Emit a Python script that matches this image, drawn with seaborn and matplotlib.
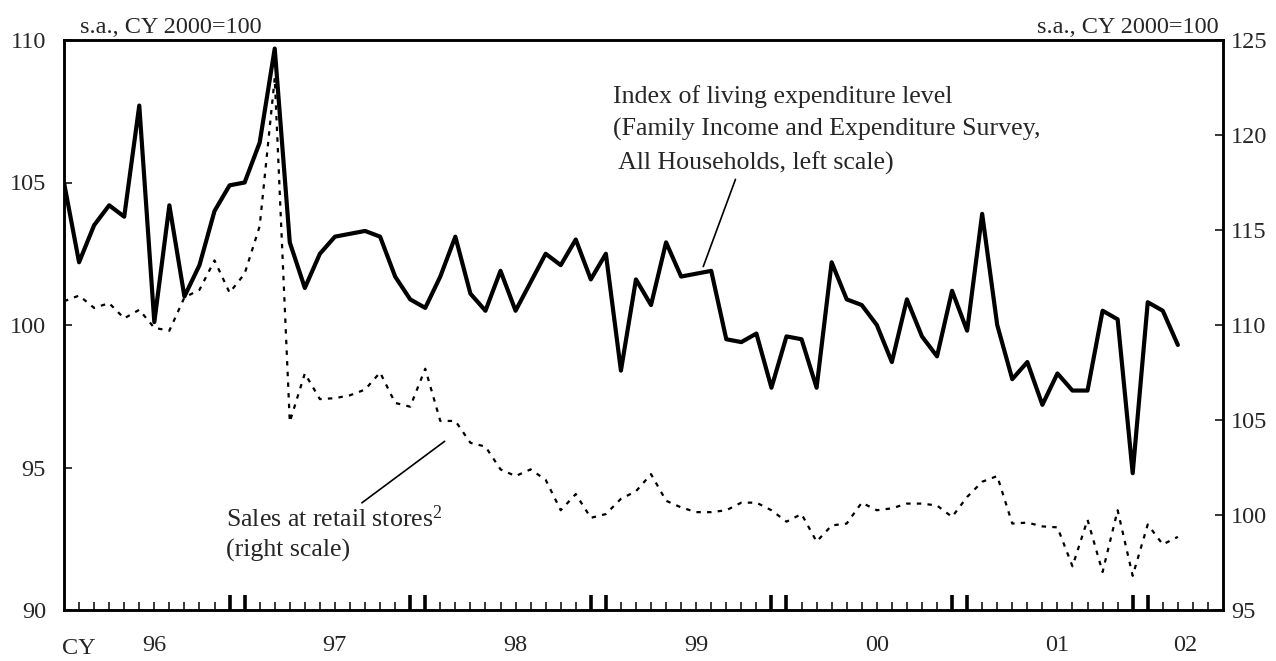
import numpy as np
import pandas as pd
import matplotlib
matplotlib.use("Agg")
import matplotlib.pyplot as plt
import seaborn as sns

# monthly data, Jan 1996 - Mar 2002
expenditure = [105.0, 102.2, 103.5, 104.2, 103.8, 107.7, 100.1, 104.2, 101.0, 102.1,
               104.0, 104.9, 105.0, 106.4, 109.7, 102.9, 101.3, 102.5, 103.1, 103.2,
               103.3, 103.1, 101.7, 100.9, 100.6, 101.7, 103.1, 101.1, 100.5, 101.9,
               100.5, 101.5, 102.5, 102.1, 103.0, 101.6, 102.5, 98.4, 101.6, 100.7,
               102.9, 101.7, 101.8, 101.9, 99.5, 99.4, 99.7, 97.8, 99.6, 99.5,
               97.8, 102.2, 100.9, 100.7, 100.0, 98.7, 100.9, 99.6, 98.9, 101.2,
               99.8, 103.9, 100.0, 98.1, 98.7, 97.2, 98.3, 97.7, 97.7, 100.5,
               100.2, 94.8, 100.8, 100.5, 99.3]
retail = [111.25, 111.55, 110.9, 111.15, 110.35, 110.8, 109.85, 109.7, 111.45, 111.85,
          113.4, 111.7, 112.7, 115.2, 123.0, 104.9, 107.45, 106.1, 106.15, 106.3,
          106.6, 107.5, 105.9, 105.7, 107.7, 104.95, 104.95, 103.8, 103.6, 102.4,
          102.05, 102.4, 101.85, 100.25, 101.1, 99.85, 100.05, 100.85, 101.25, 102.15,
          100.75, 100.4, 100.15, 100.15, 100.25, 100.65, 100.65, 100.25, 99.65, 100.05,
          98.6, 99.45, 99.55, 100.65, 100.25, 100.35, 100.6, 100.6, 100.5, 99.9,
          100.95, 101.75, 102.05, 99.55, 99.6, 99.4, 99.35, 97.3, 99.75, 97.0,
          100.25, 96.8, 99.5, 98.45, 98.85]
years = ["96", "97", "98", "99", "00", "01", "02"]
left_ticks = [90, 95, 100, 105, 110]
right_ticks = [95, 100, 105, 110, 115, 120, 125]

sns.set_style("white")
plt.rcParams["font.family"] = ["Liberation Serif", "DejaVu Serif"]
plt.rcParams["mathtext.default"] = "regular"
FS = 17.5   # axis text
FA = 18.6   # annotation text

df = pd.DataFrame({"month": np.arange(len(expenditure)),
                   "expenditure": expenditure, "retail": retail})
xmax = 77

fig = plt.figure(figsize=(12.76, 6.61), dpi=100)
ax = fig.add_axes([64 / 1276, 51 / 661, (1223 - 64) / 1276, 570 / 661])
ax2 = ax.twinx()

sns.lineplot(data=df, x="month", y="retail", ax=ax2, color="black",
             lw=1.6, linestyle=(0, (2, 2.8)))
sns.lineplot(data=df, x="month", y="expenditure", ax=ax, color="black", lw=3)
ax.set_zorder(ax2.get_zorder() + 1)
ax.patch.set_visible(False)

ax.set_xlim(0, xmax)
ax.set_ylim(90, 110)
ax2.set_ylim(95, 125)
ax.set_yticks(left_ticks)
ax2.set_yticks(right_ticks)
for a in (ax, ax2):
    a.set_xlabel("")
    a.set_ylabel("")
    for s in a.spines.values():
        s.set_linewidth(1.8)
        s.set_color("black")

# month ticks, thick pairs around year ends
big = [m for y in range(1, len(years)) for m in (12 * y - 1, 12 * y)]
ax.set_xticks(big)
ax.set_xticks([m for m in range(1, xmax) if m not in big], minor=True)
ax.tick_params(axis="x", which="major", direction="in", length=11, width=2.6,
               bottom=True, top=False, labelbottom=False, color="black")
ax.tick_params(axis="x", which="minor", direction="in", length=6, width=1.1,
               bottom=True, top=False, color="black")
ax.tick_params(axis="y", direction="in", length=6, width=1.1, pad=13,
               left=True, right=False, labelsize=FS, color="black")
ax2.tick_params(axis="y", direction="in", length=6, width=1.1, pad=6,
                right=True, left=False, labelsize=FS, color="black")

# year labels
tr = ax.get_xaxis_transform()
for i, y in enumerate(years):
    start = 12 * i
    ax.text((start + min(start + 12, xmax)) / 2, -0.062, y, transform=tr,
            ha="center", va="center", fontsize=FS)
ax.text(-0.1, -0.067, "CY", transform=tr, ha="left", va="center", fontsize=FS)

ax.text(0.014, 1.012, "s.a., CY 2000=100", transform=ax.transAxes,
        ha="left", va="baseline", fontsize=FS)
ax.text(0.9965, 1.012, "s.a., CY 2000=100", transform=ax.transAxes,
        ha="right", va="baseline", fontsize=FS)

# annotations
ax.text(36.5, 107.79, "Index of living expenditure level", fontsize=FA, va="baseline")
ax.text(36.5, 106.63, "(Family Income and Expenditure Survey,", fontsize=FA, va="baseline")
ax.text(36.5, 105.47, " All Households, left scale)", fontsize=FA, va="baseline")
ax.annotate("", xy=(42.47, 102.05), xytext=(44.61, 105.11),
            arrowprops=dict(arrowstyle="-", lw=1.2, color="black", shrinkA=0, shrinkB=0))

ax.text(10.75, 92.91, "Sales at retail stores$^{2}$", fontsize=FA, va="baseline")
ax.text(10.75, 91.86, "(right scale)", fontsize=FA, va="baseline")
ax.annotate("", xy=(25.29, 95.92), xytext=(19.79, 93.76),
            arrowprops=dict(arrowstyle="-", lw=1.2, color="black", shrinkA=0, shrinkB=0))

fig.savefig("out.png", dpi=100)
